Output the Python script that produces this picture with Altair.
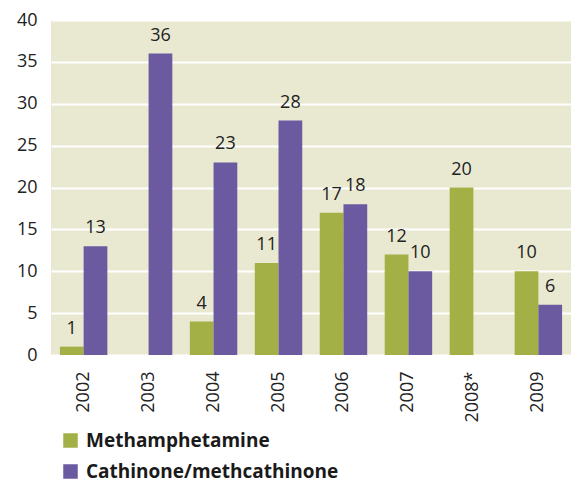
import altair as alt
import pandas as pd

years = ["2002", "2003", "2004", "2005", "2006", "2007", "2008*", "2009"]
series = ["Methamphetamine", "Cathinone/methcathinone"]
meth = [1, None, 4, 11, 17, 12, 20, 10]
cath = [13, 36, 23, 28, 18, 10, None, 6]
colors = ["#a2b045", "#6b5a9f"]
y_ticks = [0, 5, 10, 15, 20, 25, 30, 35, 40]

rows = []
for i, yr in enumerate(years):
    for s, vals in zip(series, [meth, cath]):
        if vals[i] is not None:
            rows.append({"year": yr, "series": s, "value": vals[i]})
df = pd.DataFrame(rows)

FONT = "Open Sans"

x = alt.X("year:N", sort=years, title=None,
          scale=alt.Scale(paddingInner=0.2694, paddingOuter=0.137),
          axis=alt.Axis(labelAngle=-90, labelAlign="right", labelBaseline="middle",
                        labelPadding=16, ticks=False, domain=False,
                        labelFontSize=18, labelFont=FONT, labelColor="#222222"))
xo = alt.XOffset("series:N", sort=series,
                 scale=alt.Scale(domain=series, paddingInner=0, paddingOuter=0))
y = alt.Y("value:Q", title=None,
          scale=alt.Scale(domain=[0, 40], nice=False),
          axis=alt.Axis(values=y_ticks, ticks=False, domain=False, labelPadding=14,
                        labelFontSize=18, labelFont=FONT, labelColor="#222222",
                        grid=True, gridColor="#ffffff", gridWidth=2))

base = alt.Chart(df)
bars = base.mark_bar().encode(
    x=x, xOffset=xo, y=y,
    color=alt.Color("series:N", sort=series,
                    scale=alt.Scale(domain=series, range=colors),
                    legend=alt.Legend(title=None, orient="none", legendX=10, legendY=411,
                                      symbolType="square", symbolSize=210,
                                      symbolStrokeWidth=0, labelFontSize=19,
                                      labelFont=FONT, labelFontWeight="bold",
                                      labelColor="#1a1a1a", labelOffset=6,
                                      labelLimit=600,
                                      rowPadding=11, direction="vertical")),
)
labels = base.mark_text(dy=-13, baseline="alphabetic", fontSize=18, font=FONT,
                        color="#222222").encode(
    x=x, xOffset=xo, y=y, text=alt.Text("value:Q"),
)

chart = alt.layer(bars, labels).properties(
    width=520, height=335,
    autosize=alt.AutoSizeParams(type="none"),
    padding={"left": 43, "top": 12, "right": 0, "bottom": 127},
).configure_view(fill="#e9e9d1", stroke=None)

chart.save("out.html", embed_options={"renderer": "svg", "actions": False})
